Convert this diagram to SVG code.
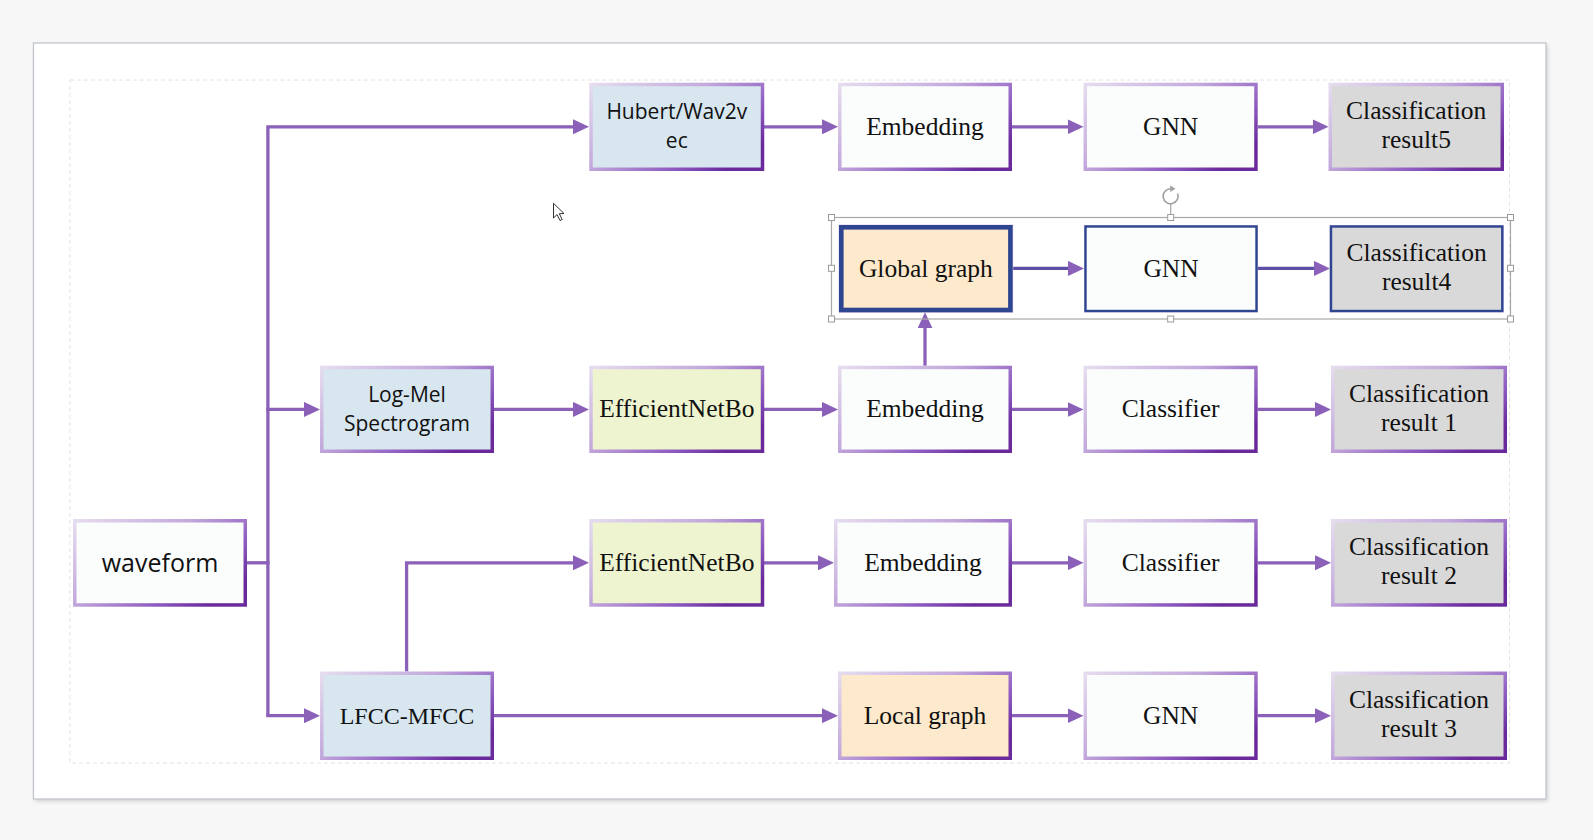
<svg xmlns="http://www.w3.org/2000/svg" width="1593" height="840" viewBox="0 0 1593 840">
<defs>
<linearGradient id="bd" x1="0" y1="0" x2="1" y2="0.7">
<stop offset="0" stop-color="#e6dcef"/>
<stop offset="0.45" stop-color="#c3a9dc"/>
<stop offset="0.8" stop-color="#8c58bf"/>
<stop offset="1" stop-color="#6a2a9c"/>
</linearGradient>
<marker id="ah" markerUnits="userSpaceOnUse" markerWidth="16" markerHeight="15" refX="2" refY="7.5" orient="auto">
<path d="M0,0 L16,7.5 L0,15 Z" fill="#8a60b8"/>
</marker>
<filter id="sh" x="-5%" y="-5%" width="110%" height="110%">
<feGaussianBlur stdDeviation="2"/>
</filter>
</defs>
<style>
.box{stroke:url(#bd);stroke-width:3.5}
.w{fill:#fbfdfd}
.b{fill:#d7e6ef}
.g{fill:#eef4cf}
.p{fill:#fde9cc}
.r{fill:#d9d9d9}
.nv{stroke:#2e4591;fill:none}
.se{font-family:"Liberation Serif","DejaVu Serif",serif;font-size:25.5px;fill:#111;text-anchor:middle}
.sa{font-family:"Open Sans","Noto Sans",sans-serif;font-size:21px;fill:#111;text-anchor:middle}
.c{fill:none;stroke:#8a60b8;stroke-width:3.3;marker-end:url(#ah)}
.c0{fill:none;stroke:#8a60b8;stroke-width:3.3}
.hd{fill:#fff;stroke:#9a9a9a;stroke-width:1}
</style>
<rect x="0" y="0" width="1593" height="840" fill="#f7f7f7"/>
<rect x="35" y="45" width="1512.5" height="756" fill="#c9cbcf" filter="url(#sh)"/>
<rect x="33.5" y="43" width="1512.5" height="756" fill="#ffffff" stroke="#c3c7cc" stroke-width="1.3"/>
<rect x="70" y="80" width="1439.5" height="683" fill="none" stroke="#e2e2e2" stroke-width="1" stroke-dasharray="4 3"/>

<g id="connectors">
<path class="c0" d="M247,562.8 H269.5"/>
<path class="c" d="M267.9,715.7 V126.8 H575"/>
<path class="c" d="M266.2,409.4 H306"/>
<path class="c" d="M266.2,715.7 H306"/>
<path class="c" d="M764,126.8 H824"/>
<path class="c" d="M1012,126.8 H1069.5"/>
<path class="c" d="M1257.7,126.8 H1314.5"/>
<path class="c" d="M1012.7,268.4 H1070" style="stroke:#5d4ea6"/>
<path class="c" d="M1257.7,268.4 H1316" style="stroke:#5d4ea6"/>
<path class="c" d="M925,365.7 V326.3"/>
<path class="c" d="M494,409.4 H575"/>
<path class="c" d="M764,409.4 H824"/>
<path class="c" d="M1012,409.4 H1069.5"/>
<path class="c" d="M1257.7,409.4 H1317"/>
<path class="c" d="M406.6,671.5 V562.8 H575"/>
<path class="c" d="M764,562.8 H820"/>
<path class="c" d="M1012,562.8 H1069.5"/>
<path class="c" d="M1257.7,562.8 H1317"/>
<path class="c" d="M494,715.7 H824"/>
<path class="c" d="M1012,715.7 H1069.5"/>
<path class="c" d="M1257.7,715.7 H1317"/>
</g>

<g id="waveform"><rect class="box w" x="74.75" y="520.75" width="170.5" height="84.2"/><text class="sa" x="160" y="571.7" style="font-size:25px">waveform</text></g>

<g id="hubert"><rect class="box b" x="591" y="84.45" width="171.5" height="84.8"/><text class="sa" x="676.8" y="119.3">Hubert/Wav2v</text><text class="sa" x="676.8" y="148.3">ec</text></g>
<g id="emb1"><rect class="box w" x="839.75" y="84.45" width="170.5" height="84.8"/><text class="se" x="925" y="134.8">Embedding</text></g>
<g id="gnn1"><rect class="box w" x="1085.25" y="84.45" width="170.7" height="84.8"/><text class="se" x="1170.6" y="134.8">GNN</text></g>
<g id="res5"><rect class="box r" x="1330.25" y="84.45" width="172" height="84.8"/><text class="se" x="1416.2" y="119.3">Classification</text><text class="se" x="1416.2" y="147.7">result5</text></g>

<g id="selection">
<rect x="831.5" y="217.5" width="679" height="101.5" fill="none" stroke="#a8a8a8" stroke-width="1.2"/>
<line x1="1170.7" y1="204" x2="1170.7" y2="215" stroke="#a8a8a8" stroke-width="1.2"/>
<path d="M1177.6,193.5 A7.5,7.5 0 1 1 1170.7,188.7" fill="none" stroke="#a0a0a0" stroke-width="1.6"/>
<path d="M1170.2,185.5 L1175.5,188.8 L1170.2,192 Z" fill="#a0a0a0"/>
<rect class="hd" x="828.5" y="214.5" width="6" height="6"/>
<rect class="hd" x="1167.7" y="214.5" width="6" height="6"/>
<rect class="hd" x="1507.5" y="214.5" width="6" height="6"/>
<rect class="hd" x="828.5" y="265.3" width="6" height="6"/>
<rect class="hd" x="1507.5" y="265.3" width="6" height="6"/>
<rect class="hd" x="828.5" y="316" width="6" height="6"/>
<rect class="hd" x="1167.7" y="316" width="6" height="6"/>
<rect class="hd" x="1507.5" y="316" width="6" height="6"/>
</g>

<g id="global"><rect class="p" x="839" y="225" width="173.7" height="87.3" stroke="#e0d0ee" stroke-width="1"/><rect class="nv" x="841.3" y="227.3" width="169.1" height="82.7" stroke-width="4.6"/><text class="se" x="925.8" y="276.5">Global graph</text></g>
<g id="gnn2"><rect class="w" x="1084.5" y="225.5" width="173" height="86.5" stroke="#d8c8e8" stroke-width="1"/><rect class="nv" x="1085.5" y="226.5" width="171" height="84.5" stroke-width="2.4"/><text class="se" x="1171" y="276.5">GNN</text></g>
<g id="res4"><rect class="r" x="1330" y="225.5" width="173.3" height="86.5" stroke="#d8c8e8" stroke-width="1"/><rect class="nv" x="1331" y="226.5" width="171.3" height="84.5" stroke-width="2.4"/><text class="se" x="1416.6" y="261">Classification</text><text class="se" x="1416.6" y="289.5">result4</text></g>

<g id="logmel"><rect class="box b" x="321.75" y="367.45" width="170.5" height="83.8"/><text class="sa" x="407" y="401.7">Log-Mel</text><text class="sa" x="407" y="430.7">Spectrogram</text></g>
<g id="eff1"><rect class="box g" x="591" y="367.45" width="171.5" height="83.8"/><text class="se" x="676.8" y="417.4">EfficientNetBo</text></g>
<g id="emb3"><rect class="box w" x="839.75" y="367.45" width="170.5" height="83.8"/><text class="se" x="925" y="417.4">Embedding</text></g>
<g id="cls1"><rect class="box w" x="1085.25" y="367.45" width="170.7" height="83.8"/><text class="se" x="1170.6" y="417.4">Classifier</text></g>
<g id="res1"><rect class="box r" x="1332.75" y="367.45" width="172.5" height="83.8"/><text class="se" x="1419" y="401.7">Classification</text><text class="se" x="1419" y="430.7">result 1</text></g>

<g id="eff2"><rect class="box g" x="591" y="520.75" width="171.5" height="84.2"/><text class="se" x="676.8" y="570.8">EfficientNetBo</text></g>
<g id="emb4"><rect class="box w" x="835.75" y="520.75" width="174.5" height="84.2"/><text class="se" x="923" y="570.8">Embedding</text></g>
<g id="cls2"><rect class="box w" x="1085.25" y="520.75" width="170.7" height="84.2"/><text class="se" x="1170.6" y="570.8">Classifier</text></g>
<g id="res2"><rect class="box r" x="1332.75" y="520.75" width="172.5" height="84.2"/><text class="se" x="1419" y="555.3">Classification</text><text class="se" x="1419" y="584.3">result 2</text></g>

<g id="lfcc"><rect class="box b" x="321.75" y="673.25" width="170.5" height="85"/><text class="se" x="407" y="723.7" style="font-size:24px">LFCC-MFCC</text></g>
<g id="local"><rect class="box p" x="839.75" y="673.25" width="170.5" height="85"/><text class="se" x="925" y="723.7">Local graph</text></g>
<g id="gnn5"><rect class="box w" x="1085.25" y="673.25" width="170.7" height="85"/><text class="se" x="1170.6" y="723.7">GNN</text></g>
<g id="res3"><rect class="box r" x="1332.75" y="673.25" width="172.5" height="85"/><text class="se" x="1419" y="707.7">Classification</text><text class="se" x="1419" y="737.2">result 3</text></g>

<path d="M553.5,203.3 L553.5,218 L557,214.6 L560,220.5 L562.2,219.5 L559.3,213.7 L564,213.5 Z" fill="#fff" stroke="#333" stroke-width="1"/>
</svg>
